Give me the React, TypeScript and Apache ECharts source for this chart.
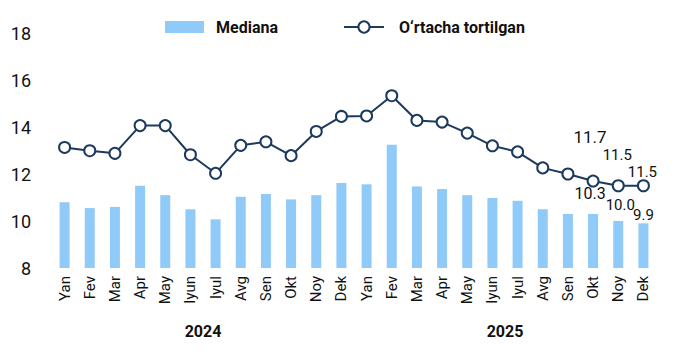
import React, { useEffect, useRef } from "react";
import * as echarts from "echarts";

const months = [
  "Yan", "Fev", "Mar", "Apr", "May", "Iyun", "Iyul", "Avg", "Sen", "Okt", "Noy", "Dek",
  "Yan", "Fev", "Mar", "Apr", "May", "Iyun", "Iyul", "Avg", "Sen", "Okt", "Noy", "Dek",
];
const years = ["2024", "2025"];
const medianValues = [
  10.8, 10.55, 10.6, 11.5, 11.1, 10.5, 10.07, 11.03, 11.15, 10.92, 11.1, 11.62,
  11.56, 13.25, 11.47, 11.36, 11.1, 10.98, 10.86, 10.5, 10.3, 10.3, 10.0, 9.9,
];
const weightedValues = [
  13.13, 12.99, 12.88, 14.06, 14.06, 12.82, 12.03, 13.22, 13.37, 12.78, 13.81, 14.45,
  14.47, 15.33, 14.28, 14.21, 13.74, 13.2, 12.94, 12.26, 12.0, 11.7, 11.5, 11.5,
];
const yTicks = { min: 8, max: 18, interval: 2 };

const BAR = "#90CAF9";
const LINE = "#1C3A5E";
const TEXT = "#111111";
const FONT = "Roboto";

export default function App() {
  const ref = useRef<HTMLDivElement>(null);
  useEffect(() => {
    if (!ref.current) return;
    const chart = echarts.init(ref.current, null, { renderer: "svg" });
    const n = months.length;
    const barLabelCfg: Record<number, { offset: number[]; size: number }> = {
      [n - 3]: { offset: [-3, -7], size: 16 },
      [n - 2]: { offset: [2, -4], size: 15 },
      [n - 1]: { offset: [0, 4], size: 15 },
    };
    const lineLabelCfg: Record<number, { offset: number[]; size: number }> = {
      [n - 3]: { offset: [-3, -24], size: 17 },
      [n - 2]: { offset: [-1, -12], size: 15 },
      [n - 1]: { offset: [-1, 5], size: 15 },
    };
    const mkLabel = (c: { offset: number[]; size: number }) => ({
      show: true,
      position: "top",
      distance: 5,
      offset: c.offset,
      fontSize: c.size,
      color: TEXT,
      fontFamily: FONT,
      formatter: (p: any) => Number(p.value).toFixed(1),
    });
    const barData = medianValues.map((v, i) =>
      barLabelCfg[i] ? { value: v, label: mkLabel(barLabelCfg[i]) } : v
    );
    const lineData = weightedValues.map((v, i) =>
      lineLabelCfg[i] ? { value: v, label: mkLabel(lineLabelCfg[i]) } : v
    );
    const legendText = (padLeft: number) => ({
      fontSize: 16,
      fontWeight: "bold",
      color: TEXT,
      fontFamily: FONT,
      padding: [0, 0, 0, padLeft],
    });
    chart.setOption({
      animation: false,
      backgroundColor: "#ffffff",
      textStyle: { fontFamily: FONT },
      legend: [
        {
          top: 14,
          left: 160,
          itemWidth: 39,
          itemHeight: 12,
          textStyle: legendText(7),
          data: [{ name: "Mediana", icon: "rect" }],
        },
        {
          top: 14,
          left: 338,
          itemWidth: 40,
          itemHeight: 14,
          textStyle: legendText(10),
          data: [{ name: "O‘rtacha tortilgan" }],
        },
      ],
      grid: { left: 52, right: 24, top: 33, bottom: 84 },
      xAxis: [
        {
          type: "category",
          data: months,
          axisLine: { show: false },
          axisTick: { show: false },
          axisLabel: {
            rotate: 90,
            fontSize: 15,
            color: TEXT,
            margin: 8,
            interval: 0,
            fontFamily: FONT,
          },
        },
        {
          type: "category",
          data: years,
          position: "bottom",
          offset: 47,
          axisLine: { show: false },
          axisTick: { show: false },
          axisLabel: {
            fontSize: 16,
            fontWeight: "bold",
            color: TEXT,
            fontFamily: FONT,
          },
        },
      ],
      yAxis: {
        type: "value",
        min: yTicks.min,
        max: yTicks.max,
        interval: yTicks.interval,
        splitLine: { show: false },
        axisLine: { show: false },
        axisTick: { show: false },
        axisLabel: { fontSize: 18, color: TEXT, margin: 21, fontFamily: FONT },
      },
      series: [
        {
          name: "Mediana",
          type: "bar",
          data: barData,
          barWidth: 10,
          itemStyle: { color: BAR },
          xAxisIndex: 0,
        },
        {
          name: "O‘rtacha tortilgan",
          type: "line",
          data: lineData,
          xAxisIndex: 0,
          symbol: "circle",
          symbolSize: 11,
          lineStyle: { color: LINE, width: 2 },
          itemStyle: { color: "#ffffff", borderColor: LINE, borderWidth: 2 },
          z: 3,
        },
      ],
    });
    return () => chart.dispose();
  }, []);
  return (
    <div
      ref={ref}
      style={{ width: 680, height: 352, position: "absolute", left: 0, top: 0 }}
    />
  );
}
